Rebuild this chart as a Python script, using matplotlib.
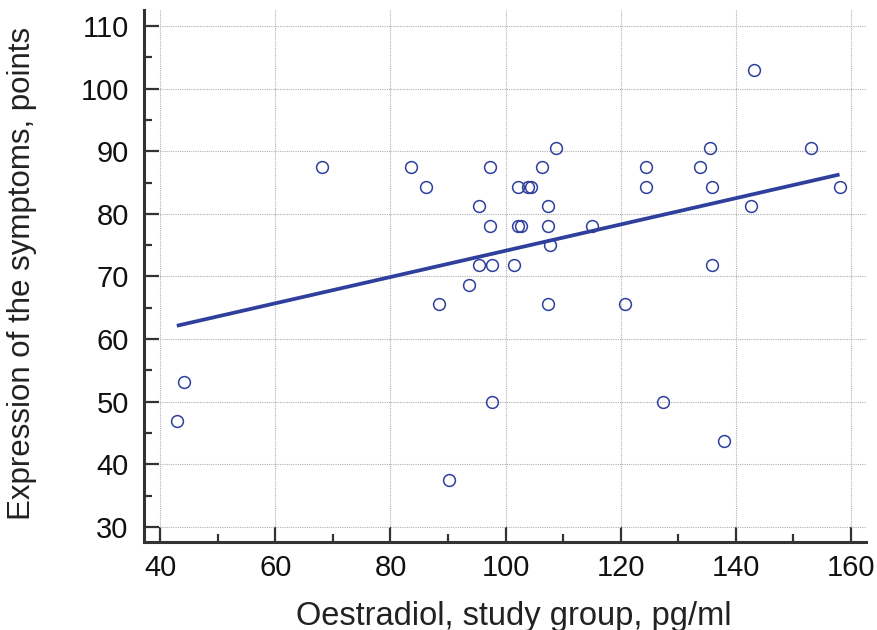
import numpy as np
import matplotlib
matplotlib.use("Agg")
import matplotlib.pyplot as plt
from matplotlib.ticker import MultipleLocator

oestradiol = [42.9, 44.2, 68.2, 83.5, 86.2, 88.5, 90.2, 93.6, 95.3, 95.3,
              97.3, 97.3, 97.6, 97.7, 101.5, 102.2, 102.1, 102.6, 103.9, 104.4,
              106.3, 107.3, 107.3, 107.7, 107.3, 108.7, 115.0, 120.7, 124.4, 124.4,
              127.4, 133.8, 135.5, 135.9, 135.9, 138.0, 142.7, 143.1, 153.0, 158.0]
symptoms = [46.9, 53.2, 87.5, 87.5, 84.3, 65.6, 37.5, 68.7, 81.2, 71.9,
            87.5, 78.1, 71.9, 50.0, 71.9, 84.3, 78.1, 78.1, 84.3, 84.3,
            87.5, 81.2, 78.1, 75.0, 65.6, 90.5, 78.1, 65.6, 87.5, 84.3,
            50.0, 87.5, 90.5, 84.3, 71.9, 43.7, 81.2, 103.0, 90.5, 84.3]

x_ticks = [40, 60, 80, 100, 120, 140, 160]
y_ticks = [30, 40, 50, 60, 70, 80, 90, 100, 110]
x_label = "Oestradiol, study group, pg/ml"
y_label = "Expression of the symptoms, points"

plt.rcParams['font.family'] = ['Liberation Sans', 'DejaVu Sans']

fig = plt.figure(figsize=(8.77, 6.3), dpi=100)
ax = fig.add_axes([0.1642, 0.1397, 0.8233, 0.8444])

blue = '#2f3f9c'
xs = np.array(oestradiol)
ys = np.array(symptoms)
slope, intercept = np.polyfit(xs, ys, 1)
lx = np.array([xs.min(), xs.max()])
ax.plot(lx, intercept + slope * lx, color=blue, lw=2.7, solid_capstyle='butt', zorder=3)
ax.plot(xs, ys, linestyle='none', marker='o', markersize=8.5, markerfacecolor='none',
        markeredgecolor=blue, markeredgewidth=1.1, zorder=4)

ax.set_xlim(37.2, 162.6)
ax.set_ylim(27.6, 112.55)
ax.set_xticks(x_ticks)
ax.set_yticks(y_ticks)
ax.xaxis.set_minor_locator(MultipleLocator(10))
ax.yaxis.set_minor_locator(MultipleLocator(5))

for s in ['top', 'right']:
    ax.spines[s].set_visible(False)
for s in ['left', 'bottom']:
    ax.spines[s].set_linewidth(2.2)
    ax.spines[s].set_color('#333333')

ax.tick_params(which='major', direction='in', length=11, width=1.6, color='#333333',
               labelsize=21, labelcolor='#111111')
ax.tick_params(axis='x', which='major', pad=9)
ax.tick_params(axis='y', which='major', pad=11)
ax.tick_params(which='minor', direction='in', length=5.5, width=1.6, color='#333333')

ax.grid(True, which='major', linestyle=(0, (1, 1)), color='#b0b0b0', linewidth=0.8)
ax.set_axisbelow(True)

ax.set_xlabel(x_label, fontsize=23.5, color='#222222')
ax.set_ylabel(y_label, fontsize=22.5, color='#222222')
ax.xaxis.set_label_coords(0.512, -0.110)
ax.yaxis.set_label_coords(-0.148, 0.505)

fig.savefig('out.png', dpi=100)
